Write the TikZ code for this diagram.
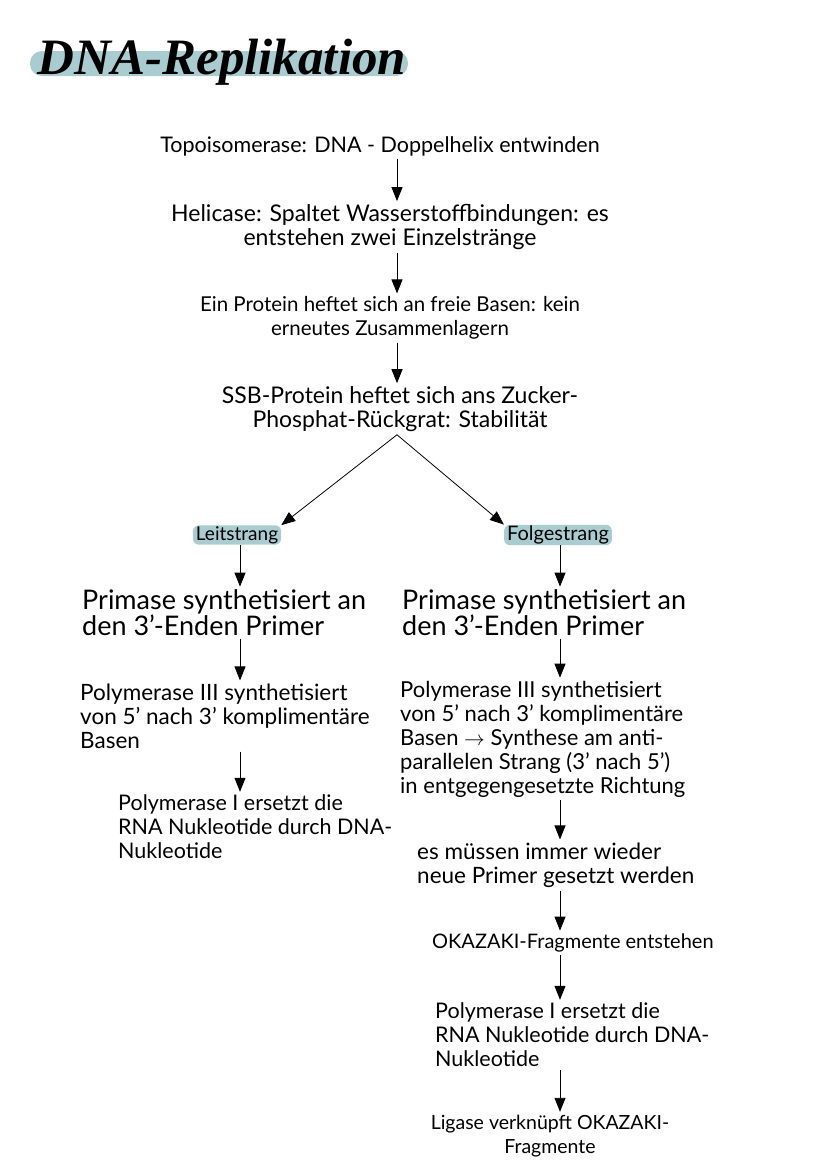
\documentclass[tikz,border=0pt]{standalone}
\usepackage{fontspec}
\setmainfont{Lato}
\newfontfamily\titlefont{Liberation Serif}
\usepackage{tikz}
\usetikzlibrary{arrows.meta}
\definecolor{hl}{HTML}{A8CCCF}
\tikzset{
  txt/.style={font=\fontsize{#1}{24}\selectfont, inner xsep=0pt, inner ysep=3pt},
  txt/.default=21,
  small/.style={font=\fontsize{#1}{20}\selectfont, fill=hl, rounded corners=6pt, inner xsep=3pt, inner ysep=1pt},
  small/.default=19,
  arr/.style={-{Triangle[width=11pt,length=14pt]}, line width=0.8pt}
}

\begin{document}
\begin{tikzpicture}[x=1pt,y=-1pt]
			\useasboundingbox (0,0) rectangle (828,1171);
			% title
			\fill[hl,rounded corners=12pt] (30,51) rectangle (408,76);
			\node[font=\titlefont\bfseries\itshape\fontsize{51}{53}\selectfont] (title) at (222,62) {DNA-Replikation};
			% common part
			\node[txt=21.5,align=center] (topo) at (380,146) {Topoisomerase: DNA - Doppelhelix entwinden};
			\node[txt=23,align=center] (heli) at (390,227) {Helicase: Spaltet Wasserstoffbindungen: es\\entstehen zwei Einzelstränge};
			\node[txt=20.5,align=center] (prot) at (390,318) {Ein Protein heftet sich an freie Basen: kein\\erneutes Zusammenlagern};
			\node[txt=23,align=center] (ssb) at (400,409) {SSB-Protein heftet sich ans Zucker-\\Phosphat-Rückgrat: Stabilität};
			\coordinate (mid) at (397,0);
			\draw[arr] (topo.south -| mid) -- (heli.north -| mid);
			\draw[arr] (heli.south -| mid) -- (prot.north -| mid);
			\draw[arr] (prot.south -| mid) -- (ssb.north -| mid);
			% two strands
			\node[small] (leit) at (237,535) {Leitstrang};
			\node[small=20] (folge) at (558,535) {Folgestrang};
			\draw[arr] (ssb.south -| mid) -- (leit.north east);
			\draw[arr] (ssb.south -| mid) -- (folge.north west);
			% left column
			\coordinate (lc) at (240,0);
			\node[txt=27,align=left,anchor=west] (lprim) at (82,613) {Primase synthetisiert an\\den 3'-Enden Primer};
			\node[txt=22.5,align=left,anchor=west] (lpol3) at (80,716) {Polymerase III synthetisiert\\von 5' nach 3' komplimentäre\\Basen};
			\node[txt=21.5,align=left,anchor=west] (lpol1) at (118,827) {Polymerase I ersetzt die\\RNA Nukleotide durch DNA-\\Nukleotide};
			\draw[arr] (leit.south -| lc) -- (lprim.north -| lc);
			\draw[arr] (lprim.south -| lc) -- (lpol3.north -| lc);
			\draw[arr] (lpol3.south -| lc) -- (lpol1.north -| lc);
			% right column
			\coordinate (rc) at (560,0);
			\node[txt=27,align=left,anchor=west] (rprim) at (402,613) {Primase synthetisiert an\\den 3'-Enden Primer};
			\node[txt=22,align=left,anchor=west] (rpol3) at (400,739) {Polymerase III synthetisiert\\von 5' nach 3' komplimentäre\\Basen $\rightarrow$ Synthese am anti-\\parallelen Strang (3' nach 5')\\in entgegengesetzte Richtung};
			\node[txt=22.5,align=left,anchor=west] (neu) at (417,865) {es müssen immer wieder\\neue Primer gesetzt werden};
			\node[txt=20,align=left,anchor=west] (okaz) at (432,943) {OKAZAKI-Fragmente entstehen};
			\node[txt=21.5,align=left,anchor=west] (rpol1) at (435,1035) {Polymerase I ersetzt die\\RNA Nukleotide durch DNA-\\Nukleotide};
			\node[txt=19.5,align=center] (liga) at (550,1136) {Ligase verknüpft OKAZAKI-\\Fragmente};
			\draw[arr] (folge.south -| rc) -- (rprim.north -| rc);
			\draw[arr] (rprim.south -| rc) -- (rpol3.north -| rc);
			\draw[arr] (rpol3.south -| rc) -- (neu.north -| rc);
			\draw[arr] (neu.south -| rc) -- (okaz.north -| rc);
			\draw[arr] (okaz.south -| rc) -- (rpol1.north -| rc);
			\draw[arr] (rpol1.south -| rc) -- (liga.north -| rc);
		\end{tikzpicture}
\end{document}
